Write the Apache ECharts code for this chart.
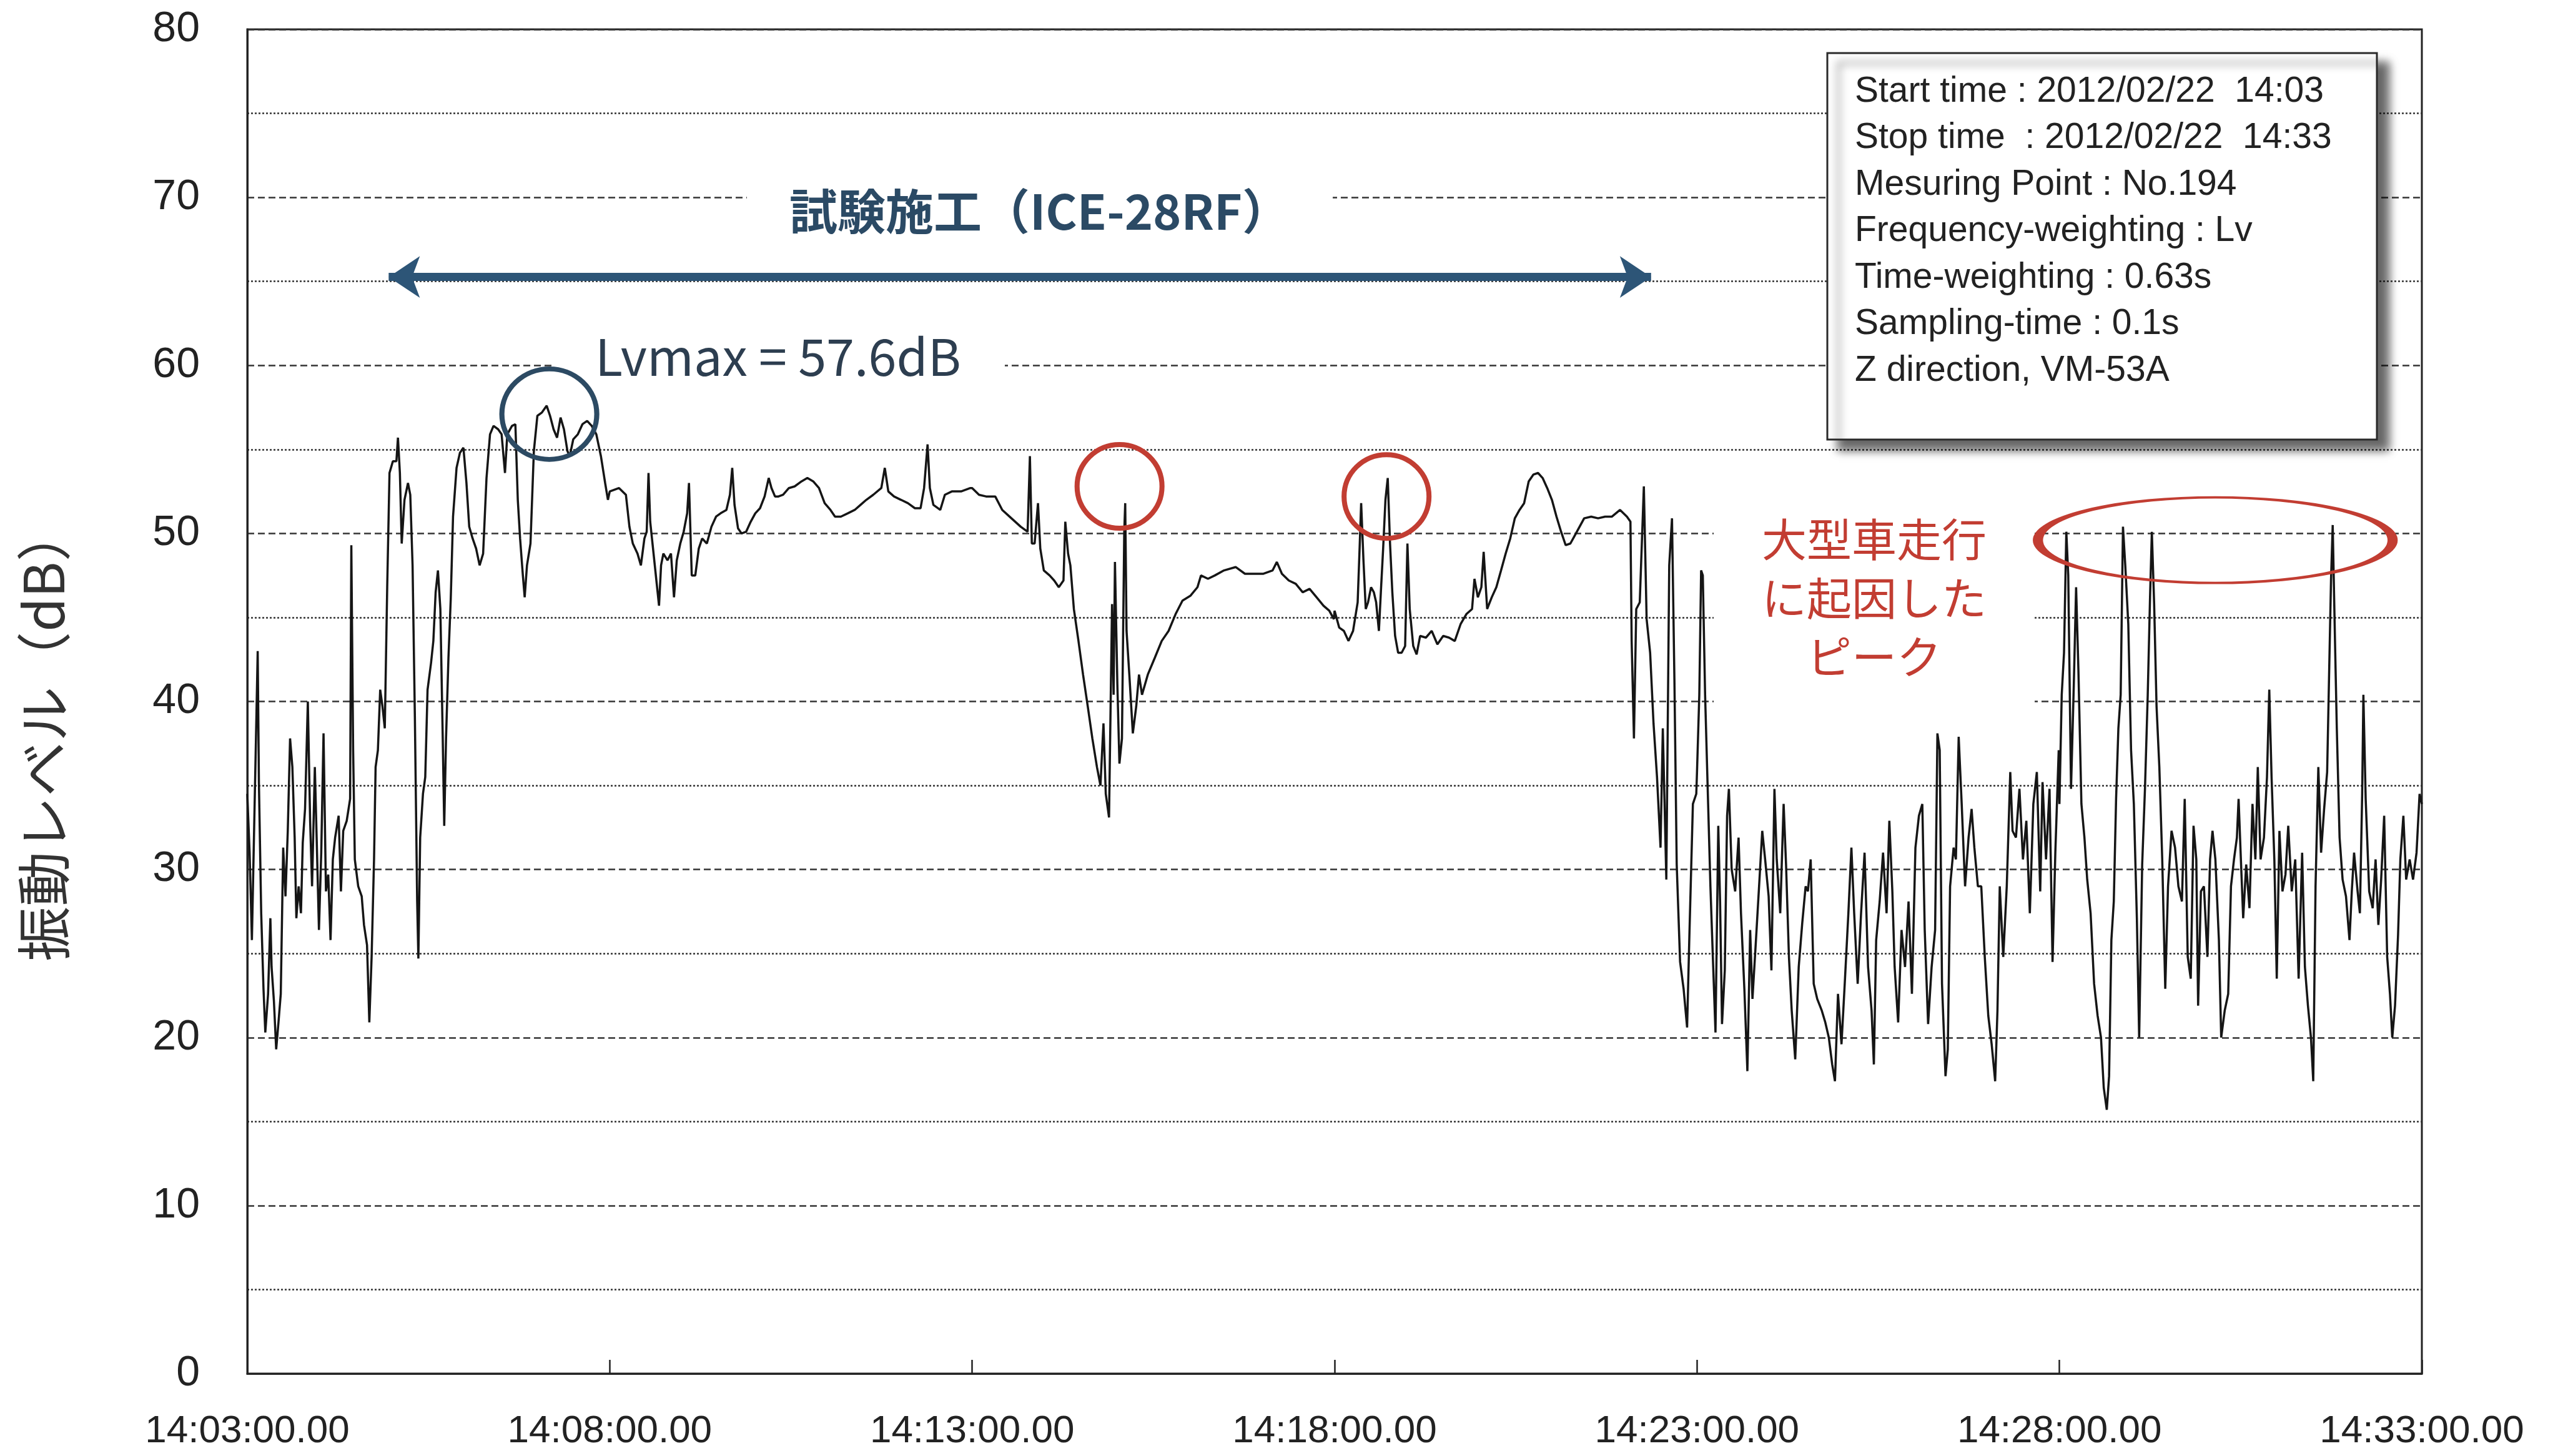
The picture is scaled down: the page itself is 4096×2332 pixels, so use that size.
<!DOCTYPE html>
<html>
<head>
<meta charset="utf-8">
<script src="https://cdn.jsdelivr.net/npm/echarts@6/dist/echarts.min.js"></script>
<style>
  html, body { margin: 0; padding: 0; background: #fff; }
  #chart { width: 4096px; height: 2332px; }
</style>
</head>
<body>
<div id="chart"></div>
<script>
// seconds after 14:03:00, vibration level in dB
const trace0308 = [[0,34.5],[1.9,31],[3.8,25.8],[5.7,32.6],[7.7,39.7],[8.6,43],[9.6,35.2],[11.5,27.4],[13.4,22.9],[14.9,20.3],[17.2,22.6],[19.1,27.1],[20.1,24.2],[22,22.2],[23.9,19.3],[25.8,20.9],[27.7,22.6],[29.7,31.3],[31.6,28.4],[33.5,32.3],[35.4,37.8],[37.3,36.1],[39.2,31.9],[40.6,27.1],[42.5,29],[44.4,27.4],[45.9,31.6],[47.8,33.6],[50.1,40],[52,32.9],[53.6,29],[55.9,36.1],[57.4,31.9],[59.3,26.4],[61.2,31],[63.1,38.1],[65.1,28.7],[67,29.7],[68.9,25.8],[70.8,30.6],[72.7,31.9],[75.6,33.2],[77.5,28.7],[79.4,32.3],[82.3,32.9],[85.1,34.2],[86.1,49.3],[87.6,37.1],[89,30.6],[91.8,29],[94.7,28.4],[96.6,26.7],[99.1,25.5],[101,20.9],[102.9,24.8],[104.9,30.6],[106.2,36.1],[108.1,37.1],[110,40.7],[111.9,39.7],[113.8,38.4],[115.8,46.8],[117.7,53.6],[120.5,54.3],[123.4,54.3],[124.7,55.7],[126.3,53.6],[127.8,49.4],[130.1,52],[133,53],[134.9,52.3],[136.8,48.1],[138.7,39.1],[140.6,28.1],[141.6,24.7],[143.1,31.9],[145.4,34.5],[147.3,35.5],[149.2,40.7],[152.1,42.3],[154,43.6],[155.9,46.5],[157.8,47.8],[159.8,45.5],[161.7,38.1],[163,32.6],[164.5,37.8],[166.5,42.6],[168.4,46.1],[170.3,51],[173.2,53.9],[176,54.8],[178.9,55.1],[181.4,53],[183.7,50.4],[186.5,49.7],[189.4,49.1],[192.3,48.1],[195.2,48.8],[198,53.3],[200.9,55.9],[203.8,56.4],[207.6,56.2],[210.5,55.9],[213.3,53.6],[215.2,55.9],[219.1,56.4],[221.9,56.5],[223.9,52],[225.8,49.7],[228.1,47.5],[229.6,46.2],[231.5,48.1],[234.4,49.4],[237.2,54.9],[240.1,57],[243.9,57.2],[247.8,57.6],[250.6,57],[253.5,56.2],[256.4,55.7],[259.3,56.9],[262.1,56.2],[265,54.9],[266.9,54.6],[269.8,55.6],[273.6,55.9],[277.4,56.5],[281.3,56.7],[285.1,56.4],[288.9,55.9],[292.7,54.6],[296.2,53],[298.5,52]];
const trace0313 = [[300,52.5],[307.7,52.7],[313.4,52.3],[316.3,50.4],[319.1,49.4],[323,48.8],[325.8,48.1],[328.7,49.7],[330.6,50.1],[332.1,53.6],[333.5,50.7],[335.4,49.4],[337.3,48.1],[339.2,46.8],[340.8,45.7],[342.5,48.1],[344.4,48.8],[347.8,48.4],[350.7,48.8],[353.2,46.2],[355.5,48.4],[358.4,49.4],[361.2,50.1],[364.1,51.2],[365.6,53],[367.9,47.5],[370.8,47.5],[373.7,49.1],[376.5,49.7],[380.4,49.4],[384.2,50.4],[388,51],[391.8,51.2],[396.6,51.4],[399.5,52.3],[401.4,53.9],[403.3,51.7],[406.2,50.3],[409.1,50],[412.9,50.1],[416.7,50.7],[420.5,51.2],[424.4,51.5],[428.2,52.2],[431.6,53.3],[433.9,52.7],[436.8,52.2],[439.7,52.2],[443.5,52.3],[448.3,52.7],[453.1,52.8],[458.8,53.1],[463.6,53.3],[468.4,53.1],[473.2,52.7],[477.9,51.8],[482.7,51.4],[486.5,51],[491.3,51],[497.1,51.2],[502.8,51.4],[507.6,51.7],[512.4,52],[518.1,52.3],[524.8,52.7],[527.7,53.9],[530.6,52.5],[535.3,52.2],[541.1,52],[546.8,51.8],[552.6,51.5],[557.3,51.5],[560.2,52.7],[563.1,55.3],[565,52.7],[567.9,51.7],[573.6,51.4],[577.4,52.3],[583.2,52.5],[590.8,52.5],[598.5,52.7]];
const trace0318 = [[600,52.7],[605.7,52.3],[611.5,52.2],[619.1,52.2],[624.9,51.4],[632.5,50.9],[640.2,50.4],[645.9,50.1],[647.8,54.6],[649.4,49.4],[651.7,49.4],[654.5,51.8],[656.4,49.1],[659.3,47.8],[664.1,47.5],[667.9,47.2],[671.7,46.8],[675.6,47.2],[677.1,50.7],[679.4,48.8],[681.3,48.1],[684.2,45.5],[688,43.6],[691.8,41.6],[695.7,39.7],[699.5,37.8],[703.3,36.1],[706.2,35],[708.7,38.7],[710.6,34.5],[713.3,33.1],[715.8,45.8],[717.1,40.4],[718.2,48.3],[720.2,41],[721.9,36.3],[724,37.8],[725.9,50.1],[726.7,51.8],[727.8,44.2],[730.1,41.6],[733,38.1],[735.8,39.7],[738.1,41.6],[740.6,40.4],[745.4,41.6],[751.2,42.6],[756.9,43.6],[762.6,44.2],[768.4,45.2],[774.1,46],[780.8,46.3],[786.5,46.8],[789.4,47.5],[795.2,47.3],[800.9,47.5],[808.5,47.8],[818.1,48],[825.8,47.6],[833.4,47.6],[841.1,47.6],[848.7,47.8],[852.2,48.3],[856.4,47.6],[862.1,47.2],[867.9,47],[873.6,46.5],[879.3,46.7],[885.1,46.2],[890.8,45.7],[895.6,45.4],[899.4,44.9]];
const trace0323 = [[900,45.4],[903.8,44.4],[907.7,44.2],[911.5,43.6],[915.3,44.2],[919.1,45.9],[920.7,49.1],[922,51.8],[923.9,48.4],[925.8,45.5],[927.7,45.9],[930.2,46.8],[932.5,46.5],[934.4,45.9],[936.7,44.2],[938.3,46.5],[940.2,49.1],[942.1,52],[944,53.3],[945.9,49.4],[947.8,46.5],[950.1,43.9],[952.6,42.9],[955.5,42.9],[958.4,43.3],[960.3,49.4],[962.2,45.5],[965.1,43.3],[967.9,42.8],[970.8,43.9],[975.6,43.8],[980.4,44.2],[985.1,43.4],[989.9,43.9],[994.7,43.8],[999.5,43.6],[1004.3,44.6],[1009.1,45.2],[1013.8,45.5],[1015.8,47.3],[1018.6,46.2],[1021.5,46.8],[1023.4,48.9],[1026.3,45.5],[1030.1,46.2],[1033.9,46.8],[1037.8,47.8],[1041.6,48.8],[1045.4,49.7],[1049.2,50.9],[1053.1,51.4],[1056.9,51.8],[1060.7,53.1],[1064.5,53.5],[1068.4,53.6],[1072.2,53.3],[1076,52.7],[1079.9,52],[1083.7,51],[1087.5,50.1],[1091.3,49.3],[1095.2,49.4],[1099,49.9],[1102.8,50.4],[1106.6,50.9],[1112.4,51],[1118.1,50.9],[1123.9,51],[1129.6,51],[1136.3,51.4],[1142,51],[1144.9,50.7],[1145.9,43.6],[1147.8,37.8],[1149.7,45.5],[1152.6,45.9],[1156,52.8],[1158.3,44.9],[1161.2,42.9],[1164,38.7],[1166.9,35.5],[1169.8,31.3],[1171.7,38.4],[1174.6,29.4],[1177,48.1],[1179.3,50.9],[1181.3,41.3],[1183.2,30.3],[1186,24.5],[1188.9,22.9],[1191.8,20.6],[1193.7,26.1],[1196.6,33.9],[1199.4,34.5]];
const trace0328 = [[1200,35.8],[1201.9,40.4],[1203.4,47.8],[1204.8,47.5],[1206.7,40.4],[1209.2,33.9],[1211.1,29],[1213.4,24.2],[1215.3,20.3],[1217.6,32.6],[1219.1,28.1],[1220.7,20.8],[1223,24],[1224.9,33.2],[1226.4,34.8],[1228.7,30],[1231.6,28.7],[1234.4,31.9],[1236.4,27.4],[1239.2,22.9],[1241.7,18],[1244,26.4],[1245.9,22.3],[1248.8,25.8],[1251.7,29.4],[1254,32.3],[1256.4,30.6],[1259.3,28.4],[1261.6,24],[1264.1,34.8],[1266,30.6],[1268.9,27.4],[1271.7,33.9],[1273.7,30.3],[1276.1,24.8],[1278.4,21.6],[1281.3,18.7],[1284.2,24.2],[1287.1,26.8],[1289.9,29],[1291.8,28.7],[1294.1,30.6],[1296.6,23.2],[1299.5,22.3],[1303.3,21.6],[1306.2,20.9],[1309.1,20],[1311.9,18.4],[1314.2,17.4],[1316.7,22.6],[1319.6,19.6],[1322.5,23.5],[1325.3,27.4],[1327.8,31.3],[1330.1,27.4],[1333,23.2],[1335.8,27.4],[1338.7,31],[1341.6,24.2],[1344.5,21.6],[1346.4,18.4],[1348.3,25.8],[1351.2,28.1],[1354,31],[1356.9,27.4],[1359.2,32.9],[1361.7,28.7],[1363.6,24.2],[1366.5,20.9],[1369.3,26.4],[1372.2,24.2],[1375.1,28.1],[1377.9,22.6],[1380.8,31.3],[1383.7,33.2],[1386.5,33.9],[1388.5,26.4],[1391.3,20.8],[1394.2,24.2],[1397.1,26.4],[1399,38.1],[1400.9,37.1],[1402.8,23.2],[1405.7,17.7],[1407.6,19.3],[1409.5,29],[1412.4,31.3],[1414.3,30.6],[1416.6,37.9],[1419.1,33.9],[1421.9,29],[1424.8,31.9],[1427.3,33.6],[1429.6,31.3],[1432.5,29],[1435.3,29],[1438.2,24.8],[1441.1,21.3],[1443.9,19.6],[1446.8,17.4],[1448.7,21.6],[1450.6,29],[1453.5,24.8],[1456.4,29],[1459.3,35.8],[1461.2,32.3],[1464,31.9],[1466.9,34.8],[1469.8,30.6],[1472.6,32.9],[1475.5,27.4],[1478.4,33.9],[1481.3,35.8],[1484.1,28.7],[1486,35.2],[1488.9,30.6],[1491.8,34.8],[1494.3,24.5],[1496.6,31],[1499.4,37.1]];
const trace0333 = [[1500,33.9],[1501.9,40.4],[1503.8,42.9],[1505.7,50.1],[1507.3,47.5],[1509.6,34.8],[1511.9,41],[1513.8,46.8],[1515.7,41.9],[1518.2,33.9],[1520.7,31.9],[1523,29.4],[1525.8,27.4],[1528.7,23.2],[1531.6,21.3],[1534.4,20],[1536.7,17],[1539.2,15.7],[1541.1,17.7],[1543,25.8],[1545,28.1],[1546.9,34.2],[1548.8,38.4],[1550.7,40.4],[1552.6,50.4],[1554.5,48.1],[1557,44.6],[1559.3,37.1],[1561.6,33.9],[1564.1,27.1],[1566,20],[1568.5,30.3],[1570.8,34.8],[1573.1,40.4],[1575,46.2],[1576.5,50.1],[1578.4,45.8],[1580.4,39.7],[1582.7,36.1],[1585.1,30.6],[1587.6,22.9],[1589.9,29],[1592.8,32.3],[1595.7,31.3],[1598.5,29],[1601.4,28.1],[1603.7,34.2],[1606.2,24.8],[1608.7,23.5],[1611,32.6],[1613.3,30.6],[1614.8,21.9],[1617.1,28.7],[1619.6,29],[1622.5,24.8],[1624.7,30.6],[1626.7,32.3],[1629.1,30.6],[1632,25.8],[1633.9,20],[1636.8,21.6],[1639.7,22.6],[1642,29],[1644.5,30.6],[1646.9,31.9],[1648.3,34.2],[1650.2,30.6],[1652.1,27.1],[1654.6,30.3],[1657.3,27.7],[1659.8,33.9],[1662.2,30.6],[1664.2,36.1],[1666.5,30.6],[1669.3,31.9],[1671.8,35.5],[1673.7,40.7],[1675.6,35.5],[1677.9,30.6],[1679.9,23.5],[1682.1,32.3],[1684.6,28.7],[1687.1,29.7],[1689.4,32.6],[1692.3,28.7],[1695.2,30.6],[1698,23.5],[1700.9,31],[1703.2,24.2],[1705.7,21.9],[1708.2,20],[1710.1,17.4],[1712,29],[1714.3,36.1],[1716.6,31],[1719.1,33.6],[1721.6,35.8],[1723.5,42.6],[1724.8,47.2],[1726.2,50.5],[1728.1,43.6],[1729.6,38.4],[1731.9,31.9],[1734.4,29.4],[1737.2,28.4],[1740.1,25.8],[1742,28.7],[1743.9,31],[1746.8,28.7],[1748.7,27.4],[1750.6,34.5],[1751.6,40.4],[1753.5,34.2],[1756.4,28.7],[1759.3,27.7],[1761.7,30.6],[1764,26.7],[1766.3,29.4],[1768.8,33.2],[1771.3,24.8],[1773.6,22.6],[1775.5,20],[1777.8,21.9],[1780.3,26.1],[1782.2,30.6],[1784.7,33.2],[1787,29.4],[1789.9,30.6],[1792.7,29.4],[1795.6,31],[1798.1,34.5],[1800,33.9]];

const timeLabels = ['14:03:00.00', '14:08:00.00', '14:13:00.00', '14:18:00.00', '14:23:00.00', '14:28:00.00', '14:33:00.00'];
const infoLines = [
  'Start time : 2012/02/22  14:03',
  'Stop time  : 2012/02/22  14:33',
  'Mesuring Point : No.194',
  'Frequency-weighting : Lv',
  'Time-weighting : 0.63s',
  'Sampling-time : 0.1s',
  'Z direction, VM-53A'
];
// annotation anchors: [seconds, dB]
const lvmaxMark = [250, 57.1];
const truckMarks = [[722, 52.8], [943, 52.2]];
const truckBand = [1629, 49.6];
const trialSpan = [[117, 65.26], [1162, 65.26]];

const trace = [].concat(trace0308, trace0313, trace0318, trace0323, trace0328, trace0333);

const chart = echarts.init(document.getElementById('chart'), null, { renderer: 'canvas' });

const RED = '#c23d32';
const NAVY = '#2c4a63';
const ink = '#222';

chart.setOption({
  backgroundColor: '#fff',
  animation: false,
  grid: {
    left: 396, right: 218, top: 47, bottom: 132,
    show: true, borderColor: ink, borderWidth: 3,
    outerBoundsMode: 'none'
  },
  xAxis: {
    type: 'value',
    min: 0, max: 1800, interval: 300,
    axisLine: { lineStyle: { color: ink, width: 3 } },
    axisTick: { inside: true, length: 22, lineStyle: { color: ink, width: 2.5 } },
    axisLabel: {
      margin: 62,
      fontFamily: 'Liberation Sans', fontSize: 62, color: ink,
      formatter: (v) => timeLabels[Math.round(v / 300)]
    },
    splitLine: { show: false }
  },
  yAxis: {
    type: 'value',
    min: 0, max: 80, interval: 10,
    name: '振動レベル（dB）',
    nameLocation: 'middle',
    nameRotate: 90,
    nameGap: 282,
    nameTextStyle: {
      fontFamily: 'Noto Sans CJK JP', fontSize: 88, color: '#333',
      padding: [0, 104, 0, 0]
    },
    axisLine: { show: true, lineStyle: { color: ink, width: 3 } },
    axisTick: { show: false },
    minorTick: { show: false, splitNumber: 2 },
    axisLabel: { margin: 76, fontFamily: 'Liberation Sans', fontSize: 68, color: ink },
    splitLine: { lineStyle: { color: '#333', width: 2.5, type: [11, 6] } },
    minorSplitLine: { show: true, lineStyle: { color: '#333', width: 2.5, type: [3, 3] } }
  },
  series: [{
    type: 'line',
    data: trace,
    showSymbol: false,
    symbol: 'none',
    lineStyle: { color: '#151515', width: 3.5 },
    z: 3,
    markPoint: {
      silent: true,
      symbol: 'circle',
      label: { show: false },
      data: [
        { coord: lvmaxMark, symbolSize: [152, 145], itemStyle: { color: 'rgba(0,0,0,0)', borderColor: NAVY, borderWidth: 8 } },
        { coord: truckMarks[0], symbolSize: [136, 134], itemStyle: { color: 'rgba(0,0,0,0)', borderColor: RED, borderWidth: 8 } },
        { coord: truckMarks[1], symbolSize: [136, 134], itemStyle: { color: 'rgba(0,0,0,0)', borderColor: RED, borderWidth: 8 } },
        { coord: truckBand, symbolSize: [568, 137], itemStyle: { color: 'rgba(0,0,0,0)', borderColor: RED, borderWidth: 8 } }
      ]
    },
    markLine: {
      silent: true,
      symbol: ['arrow', 'arrow'],
      symbolSize: 50,
      label: { show: false },
      lineStyle: { color: '#2d5577', width: 13, type: 'solid' },
      data: [[{ coord: trialSpan[0] }, { coord: trialSpan[1] }]]
    }
  }],
  graphic: [
    {
      type: 'text', z: 1, x: 1665, y: 339,
      style: {
        text: '試験施工（ICE-28RF）', align: 'center', verticalAlign: 'middle',
        font: 'bold 77px "Noto Sans CJK JP"', fill: '#2b4a65',
        backgroundColor: '#fff', padding: [10, 68]
      }
    },
    {
      type: 'text', z: 1, x: 1246, y: 571,
      style: {
        text: 'Lvmax = 57.6dB', align: 'center', verticalAlign: 'middle',
        font: '81px "Noto Sans CJK JP"', fill: '#2d3e50',
        backgroundColor: '#fff', padding: [6, 70]
      }
    },
    {
      type: 'text', z: 1, x: 3001, y: 958,
      style: {
        text: '大型車走行\nに起因した\nピーク', align: 'center', verticalAlign: 'middle',
        font: '72px "Noto Sans CJK JP"', lineHeight: 94, fill: RED,
        backgroundColor: '#fff', padding: [30, 77, 45, 77]
      }
    },
    {
      type: 'group', z: 5, x: 2926, y: 85,
      children: [
        {
          type: 'rect', z: 5,
          shape: { x: 0, y: 0, width: 880, height: 619 },
          style: {
            fill: '#fff', stroke: '#2a2a2a', lineWidth: 3,
            shadowBlur: 14, shadowOffsetX: 18, shadowOffsetY: 16, shadowColor: 'rgba(0,0,0,0.6)'
          }
        }
      ].concat(infoLines.map((t, i) => ({
        type: 'text', z: 6,
        x: 44, y: 62 + i * 74.5,
        style: { text: t, font: '57px "Liberation Sans"', fill: ink, verticalAlign: 'middle' }
      })))
    }
  ]
});
</script>
</body>
</html>
